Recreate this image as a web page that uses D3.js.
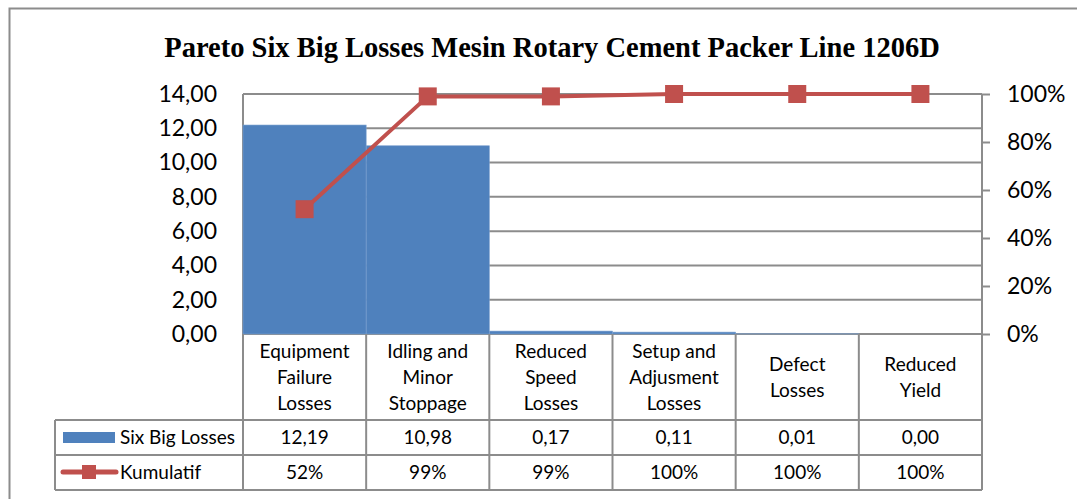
<!DOCTYPE html>
<html>
<head>
<meta charset="utf-8">
<script src="https://cdn.jsdelivr.net/npm/d3@7"></script>
<style>
  body { margin: 0; background: #fff; }
  text { font-family: Lato, "Open Sans", sans-serif; fill: #000; }
</style>
</head>
<body>
<div id="chart"></div>
<script>
// data
let categories = [
  ["Equipment", "Failure", "Losses"],
  ["Idling and", "Minor", "Stoppage"],
  ["Reduced", "Speed", "Losses"],
  ["Setup and", "Adjusment", "Losses"],
  ["Defect", "Losses"],
  ["Reduced", "Yield"]
]
let losses = [12.19, 10.98, 0.17, 0.11, 0.01, 0.00]
let kumulatif = [0.52, 0.99, 0.99, 1.00, 1.00, 1.00]
let lossLabels = ["12,19", "10,98", "0,17", "0,11", "0,01", "0,00"]
let kumLabels = ["52%", "99%", "99%", "100%", "100%", "100%"]
let leftTicks = [0, 2, 4, 6, 8, 10, 12, 14]
let rightTicks = [0, 0.2, 0.4, 0.6, 0.8, 1.0]

let W = 1077, H = 499
let svg = d3.select("#chart").append("svg").attr("width", W).attr("height", H)

let pLeft = 243, pRight = 982, pTop = 94, pBottom = 334
let grey = "#8c8c8c"
let fs = "19px"

// outer border
svg.append("rect").attr("x", 9.5).attr("y", 8.5).attr("width", W).attr("height", H)
  .attr("fill", "none").attr("stroke", grey).attr("stroke-width", 2)

// title
svg.append("text").attr("x", 552).attr("y", 57).attr("text-anchor", "middle")
  .style("font-family", "'Liberation Serif', serif").style("font-weight", "bold")
  .attr("font-size", "28.5px").text("Pareto Six Big Losses Mesin Rotary Cement Packer Line 1206D")

let x = d3.scaleBand().domain(d3.range(categories.length)).range([pLeft, pRight]).padding(0)
let y = d3.scaleLinear().domain([0, 14]).range([pBottom, pTop])
let y2 = d3.scaleLinear().domain([0, 1]).range([pBottom, pTop])

// gridlines
svg.append("g").selectAll("line").data(leftTicks).enter().append("line")
  .attr("x1", pLeft).attr("x2", pRight)
  .attr("y1", d => y(d)).attr("y2", d => y(d))
  .attr("stroke", grey).attr("stroke-width", 2)

// plot left edge
svg.append("line").attr("x1", pLeft).attr("x2", pLeft).attr("y1", pTop).attr("y2", pBottom)
  .attr("stroke", grey).attr("stroke-width", 2)

// bars
svg.append("g").selectAll("rect").data(losses).enter().append("rect")
  .attr("x", (d, i) => x(i)).attr("width", x.bandwidth())
  .attr("y", d => y(d)).attr("height", d => pBottom - y(d))
  .attr("fill", "#4f81bd").attr("stroke", "#7aa0cf").attr("stroke-width", 0.6)

// left axis
let gy = svg.append("g").attr("transform", `translate(${pLeft},0)`)
  .call(d3.axisLeft(y).tickValues(leftTicks).tickSize(0).tickPadding(26)
    .tickFormat(d => d3.format(".2f")(d).replace(".", ",")))
gy.select(".domain").remove()
gy.selectAll("text").attr("font-size", "23px").style("font-family", "Lato, sans-serif")

// right axis
let gy2 = svg.append("g").attr("transform", `translate(${pRight},0)`)
  .call(d3.axisRight(y2).tickValues(rightTicks).tickSize(8).tickPadding(17)
    .tickFormat(d3.format(".0%")))
gy2.select(".domain").attr("stroke", grey).attr("stroke-width", 2).attr("d", `M0,${pTop}V${pBottom + 1}`)
gy2.selectAll(".tick line").attr("stroke", grey).attr("stroke-width", 2)
gy2.selectAll("text").attr("font-size", "23px").style("font-family", "Lato, sans-serif")

// kumulatif line
let line = d3.line().x((d, i) => x(i) + x.bandwidth() / 2).y(d => y2(d))
svg.append("path").datum(kumulatif).attr("d", line)
  .attr("fill", "none").attr("stroke", "#c0504d").attr("stroke-width", 4)
svg.append("g").selectAll("rect").data(kumulatif).enter().append("rect")
  .attr("x", (d, i) => x(i) + x.bandwidth() / 2 - 9).attr("y", d => y2(d) - 9)
  .attr("width", 18).attr("height", 18).attr("fill", "#c0504d")

// data table
let t = svg.append("g")
let rowY = [334, 420, 455, 490]
let legL = 55
t.selectAll(".hl").data(rowY.slice(1)).enter().append("line")
  .attr("x1", legL).attr("x2", pRight).attr("y1", d => d).attr("y2", d => d)
  .attr("stroke", grey).attr("stroke-width", 2)
t.selectAll(".vl").data(d3.range(categories.length + 1)).enter().append("line")
  .attr("x1", i => i < categories.length ? x(i) : pRight).attr("x2", i => i < categories.length ? x(i) : pRight)
  .attr("y1", 334).attr("y2", 490)
  .attr("stroke", grey).attr("stroke-width", 2)
t.append("line").attr("x1", legL).attr("x2", legL).attr("y1", 420).attr("y2", 490)
  .attr("stroke", grey).attr("stroke-width", 2)

// category labels
categories.forEach((c, i) => {
  let cy = 377 - (c.length - 1) * 13
  let tx = t.append("text").attr("text-anchor", "middle").attr("font-size", fs)
  c.forEach((s, j) => {
    tx.append("tspan").attr("x", x(i) + x.bandwidth() / 2).attr("y", cy + j * 26 + 7).text(s)
  })
})

// values
t.selectAll(".v1").data(lossLabels).enter().append("text")
  .attr("x", (d, i) => x(i) + x.bandwidth() / 2).attr("y", 444)
  .attr("text-anchor", "middle").attr("font-size", fs).text(d => d)
t.selectAll(".v2").data(kumLabels).enter().append("text")
  .attr("x", (d, i) => x(i) + x.bandwidth() / 2).attr("y", 479)
  .attr("text-anchor", "middle").attr("font-size", fs).text(d => d)

// legend keys
t.append("rect").attr("x", 63).attr("y", 432).attr("width", 52).attr("height", 11).attr("fill", "#4f81bd")
t.append("text").attr("x", 120).attr("y", 444).attr("font-size", fs).text("Six Big Losses")
t.append("line").attr("x1", 63).attr("x2", 116).attr("y1", 472).attr("y2", 472)
  .attr("stroke", "#c0504d").attr("stroke-width", 5).attr("stroke-linecap", "round")
t.append("rect").attr("x", 82).attr("y", 465).attr("width", 14).attr("height", 14).attr("fill", "#c0504d")
t.append("text").attr("x", 120).attr("y", 479).attr("font-size", fs).text("Kumulatif")
</script>
</body>
</html>
